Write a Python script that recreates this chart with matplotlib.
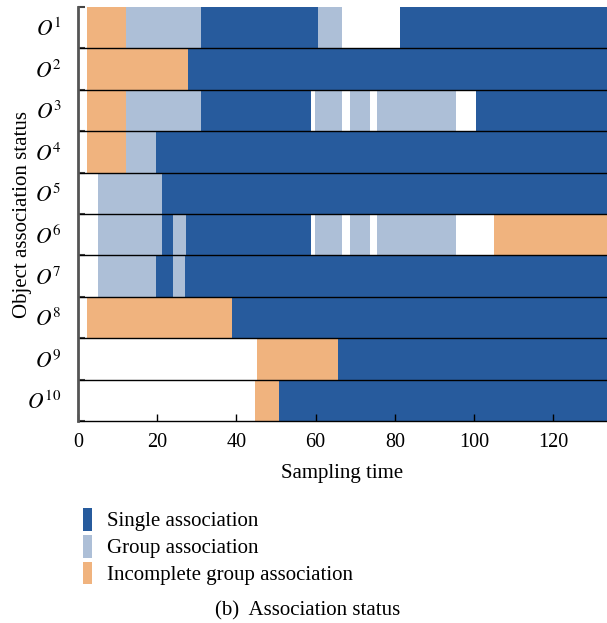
import matplotlib
matplotlib.use("Agg")
import matplotlib.pyplot as plt
from matplotlib.patches import Patch

plt.rcParams['font.family'] = ['Liberation Serif', 'DejaVu Serif']
plt.rcParams['mathtext.fontset'] = 'stix'

# Objects, top to bottom
objects = [r'$O^{%d}$' % i for i in range(1, 11)]
END = 134.0

# Intervals (start, end) of each association status, one list per object
single_segments = [
    [(31.0, 60.5), (81.4, END)],
    [(27.9, END)],
    [(31.1, 58.8), (100.5, END)],
    [(19.8, END)],
    [(21.1, END)],
    [(21.1, 24.0), (27.2, 58.8)],
    [(19.8, 24.0), (27.0, END)],
    [(39.0, END)],
    [(65.7, END)],
    [(50.7, END)],
]
group_segments = [
    [(12.1, 31.0), (60.5, 66.7)],
    [],
    [(12.1, 31.1), (59.8, 66.7), (68.6, 73.7), (75.5, 95.5)],
    [(12.1, 19.8)],
    [(5.1, 21.1)],
    [(5.1, 21.1), (24.0, 27.2), (59.8, 66.7), (68.6, 73.7), (75.5, 95.5)],
    [(5.1, 19.8), (24.0, 27.0)],
    [],
    [],
    [],
]
incomplete_segments = [
    [(2.2, 12.1)],
    [(2.2, 27.9)],
    [(2.2, 12.1)],
    [(2.2, 12.1)],
    [],
    [(105.1, END)],
    [],
    [(2.2, 39.0)],
    [(45.1, 65.7)],
    [(44.8, 50.7)],
]

status_labels = ['Single association', 'Group association',
                 'Incomplete group association']
status_colors = ['#275b9d', '#adbfd7', '#f0b37e']
x_ticks = [0, 20, 40, 60, 80, 100, 120]

fig = plt.figure(figsize=(6.07, 6.23), dpi=100)
ax = fig.add_axes([78 / 607, 1 - 421 / 623, 1 - 78 / 607, (421 - 7) / 623])

n = len(objects)
for segs_all, color in zip([single_segments, group_segments, incomplete_segments],
                           status_colors):
    for i, segs in enumerate(segs_all):
        if not segs:
            continue
        y0 = n - 1 - i
        ax.broken_barh([(a, b - a) for a, b in segs], (y0, 1),
                       facecolor=color, edgecolor='none', zorder=1)

# Row separators
for k in range(1, n):
    ax.axhline(k, color='black', lw=1.0, zorder=3)

ax.set_xlim(0, 133.6)
ax.set_ylim(0, n)
ax.set_yticks([n - 0.5 - i for i in range(n)])
ax.set_yticklabels(objects, fontsize=15.5)
ax.set_yticks(range(n + 1), minor=True)
ax.tick_params(axis='y', which='major', length=0, pad=11.5)
ax.tick_params(axis='y', which='minor', direction='in', length=5,
               width=1.5, color='#444444')
ax.set_xticks(x_ticks)
ax.tick_params(axis='x', direction='in', length=5, width=1, labelsize=14.5,
               pad=8.5)

for s in ['top', 'right']:
    ax.spines[s].set_visible(False)
ax.spines['left'].set_color('#555555')
ax.spines['left'].set_linewidth(2)
ax.spines['left'].set_zorder(4)
ax.spines['bottom'].set_color('black')
ax.spines['bottom'].set_linewidth(1)

ax.set_xlabel('Sampling time', fontsize=15, labelpad=9)
fig.text(23 / 607, 1 - 214 / 623, 'Object association status',
         rotation=90, ha='center', va='center', fontsize=15)

handles = [Patch(facecolor=c, edgecolor='none') for c in status_colors]
fig.legend(handles, status_labels, loc='upper left',
           bbox_to_anchor=(82.7 / 607, 1 - 508 / 623),
           frameon=False, fontsize=15, handlelength=0.43, handleheight=1.3,
           handletextpad=0.72, labelspacing=0.17, borderpad=0,
           borderaxespad=0)

fig.text(308 / 607, 1 - 611 / 623, '(b)  Association status',
         ha='center', va='center', fontsize=15)

fig.savefig('out.png', dpi=100)
